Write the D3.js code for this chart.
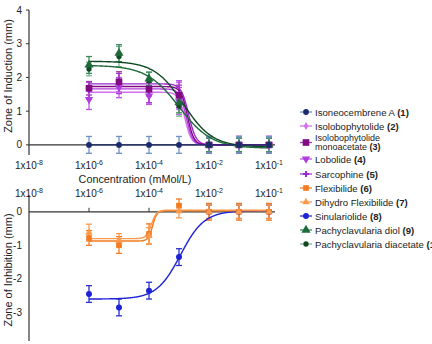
<!DOCTYPE html>
<html>
<head>
<meta charset="utf-8">
<script src="https://cdn.jsdelivr.net/npm/d3@7"></script>
<style>
  body { margin: 0; background: #fff; }
  svg { font-family: "Liberation Sans", Arial, sans-serif; }
</style>
</head>
<body>
<svg id="chart" width="432" height="344"></svg>
<script>
// concentrations (mMol/L) tested for every compound
let conc = [1e-6, 1e-5, 1e-4, 1e-3, 1e-2, 1e-1, 1];

let xTickValues = [1e-8, 1e-6, 1e-4, 1e-2, 1];
let xTickExp = ["-8", "-6", "-4", "-2", "-1"];
let yTopTicks = [0, 1, 2, 3, 4];
let yBottomTicks = [0, -1, -2, -3];

let legendNames = ["Isoneocembrene A", "Isolobophytolide", "Isolobophytolide\nmonoacetate",
  "Lobolide", "Sarcophine", "Flexibilide", "Dihydro Flexibilide", "Sinulariolide",
  "Pachyclavularia diol", "Pachyclavularia diacetate"];
let legendNums = ["(1)", "(2)", "(3)", "(4)", "(5)", "(6)", "(7)", "(8)", "(9)", "(10)"];

// zone of induction (top panel)
let isoneocembrene = [0, 0, 0, 0, 0, 0, 0];
let isoneocembreneErr = [0.25, 0.25, 0.25, 0.25, 0.25, 0.25, 0.25];
let isolobophytolide = [1.6, 1.75, 1.55, 1.45, 0, 0, 0];
let isolobophytolideErr = [0.25, 0.2, 0.3, 0.4, 0.25, 0.25, 0.25];
let monoacetate = [1.68, 1.87, 1.65, 1.47, 0, 0, 0];
let monoacetateErr = [0.2, 0.3, 0.2, 0.3, 0.2, 0.2, 0.2];
let lobolide = [1.35, 1.7, 1.45, 1.3, 0, 0, 0];
let lobolideErr = [0.3, 0.3, 0.25, 0.4, 0.2, 0.25, 0.25];
let sarcophine = [1.62, 1.82, 1.6, 1.5, 0, 0, 0];
let sarcophineErr = [0.25, 0.3, 0.35, 0.4, 0.25, 0.25, 0.25];
let diol = [2.37, 2.72, 1.96, 1.25, 0, 0, 0];
let diolErr = [0.25, 0.25, 0.2, 0.3, 0.2, 0.2, 0.2];
let diacetate = [2.25, 2.62, 1.9, 1.15, 0, 0, 0];
let diacetateErr = [0.2, 0.3, 0.25, 0.3, 0.2, 0.2, 0.2];

// zone of inhibition (bottom panel)
let flexibilide = [-0.78, -0.99, -0.66, 0.18, 0, 0, 0];
let flexibilideErr = [0.22, 0.25, 0.3, 0.2, 0.25, 0.25, 0.25];
let dihydro = [-0.62, -0.85, -0.72, 0.02, 0, 0, 0];
let dihydroErr = [0.25, 0.2, 0.25, 0.2, 0.2, 0.2, 0.2];
let sinulariolide = [-2.45, -2.85, -2.35, -1.35, 0, 0, 0];
let sinulariolideErr = [0.25, 0.25, 0.25, 0.25, 0.2, 0.2, 0.2];

// fitted dose-response curves: [bottom, top, logEC50, hill]
let fitIsoneocembrene = [0, 0, -3, 1];
let fitIsolobophytolide = [1.56, 0, -2.8, 4];
let fitMonoacetate = [1.73, 0, -2.72, 4];
let fitLobolide = [1.66, 0, -2.76, 4];
let fitSarcophine = [1.81, 0, -2.68, 3.5];
let fitDiol = [2.36, -0.1, -3.0, 0.8];
let fitDiacetate = [2.48, -0.06, -2.85, 0.9];
let fitFlexibilide = [-0.87, 0.03, -3.88, 6];
let fitDihydro = [-0.8, 0.05, -3.92, 5];
let fitSinulariolide = [-2.6, 0.03, -2.95, 1.1];

let svg = d3.select("#chart");

let x = d3.scaleLog().domain([1e-8, Math.pow(10, 0.2)]).range([29, 275]);
let yTop = d3.scaleLinear().domain([-0.3, 4]).range([155, 10]);
let yBottom = d3.scaleLinear().domain([-3.85, 0.5]).range([341, 195]);

let series = [
  { id: 0, panel: "top", vals: isoneocembrene, err: isoneocembreneErr, fit: fitIsoneocembrene,
    color: "#1b2a6b", errColor: "#6f93c4", sym: d3.symbolCircle, size: 26 },
  { id: 1, panel: "top", vals: isolobophytolide, err: isolobophytolideErr, fit: fitIsolobophytolide,
    color: "#d36ef0", errColor: "#d36ef0", sym: d3.symbolDiamond, size: 18 },
  { id: 2, panel: "top", vals: monoacetate, err: monoacetateErr, fit: fitMonoacetate,
    color: "#800a80", errColor: "#a23ab0", sym: d3.symbolSquare, size: 44 },
  { id: 3, panel: "top", vals: lobolide, err: lobolideErr, fit: fitLobolide,
    color: "#b13de0", errColor: "#c055e8", sym: "down", size: 30 },
  { id: 4, panel: "top", vals: sarcophine, err: sarcophineErr, fit: fitSarcophine,
    color: "#9b2ad0", errColor: "#a73adb", sym: d3.symbolCross, size: 20 },
  { id: 5, panel: "bottom", vals: flexibilide, err: flexibilideErr, fit: fitFlexibilide,
    color: "#f47a20", errColor: "#f47a20", sym: d3.symbolSquare, size: 32 },
  { id: 6, panel: "bottom", vals: dihydro, err: dihydroErr, fit: fitDihydro,
    color: "#fb9a4c", errColor: "#fb9a4c", sym: d3.symbolTriangle, size: 24 },
  { id: 7, panel: "bottom", vals: sinulariolide, err: sinulariolideErr, fit: fitSinulariolide,
    color: "#1d22d6", errColor: "#2a30c8", sym: d3.symbolCircle, size: 28 },
  { id: 8, panel: "top", vals: diol, err: diolErr, fit: fitDiol,
    color: "#1f6a3a", errColor: "#3c8a5a", sym: d3.symbolTriangle, size: 36 },
  { id: 9, panel: "top", vals: diacetate, err: diacetateErr, fit: fitDiacetate,
    color: "#0f4a24", errColor: "#7fb597", sym: d3.symbolCircle, size: 22 }
];

// order in which the compounds are stacked in each panel
let drawOrder = [7, 5, 6, 1, 3, 4, 2, 9, 8, 0];

function symbolPath(s) {
  if (s.sym === "down") return d3.symbol().type(d3.symbolTriangle).size(s.size)();
  return d3.symbol().type(s.sym).size(s.size)();
}
function symbolRotate(s) { return s.sym === "down" ? " rotate(180)" : ""; }

function hill(p, c) {
  let [a, b, logEC, h] = p;
  return b + (a - b) / (1 + Math.pow(10, (Math.log10(c) - logEC) * h));
}

function supLabel(sel, exps) {
  sel.each(function(d, i) {
    let t = d3.select(this);
    t.append("tspan").text("1x10");
    t.append("tspan").attr("dy", -4).attr("font-size", 7).text(exps[i]);
  });
}

// ---------- axes ----------
let axisColor = "#333";

// top panel
svg.append("line").attr("x1", 29).attr("x2", 29).attr("y1", yTop(4)).attr("y2", yTop(-0.3))
  .attr("stroke", axisColor).attr("stroke-width", 1.2);
svg.append("line").attr("x1", 29).attr("x2", 275).attr("y1", yTop(0)).attr("y2", yTop(0))
  .attr("stroke", axisColor).attr("stroke-width", 1.2);
svg.selectAll(".ytt").data(yTopTicks).enter().append("line")
  .attr("x1", 26).attr("x2", 29).attr("y1", d => yTop(d)).attr("y2", d => yTop(d))
  .attr("stroke", axisColor);
svg.selectAll(".ytl").data(yTopTicks).enter().append("text")
  .attr("x", 22).attr("y", d => yTop(d) + 3.5).attr("text-anchor", "end")
  .attr("font-size", 10).attr("fill", "#222").text(d => d);
svg.append("g").selectAll("text").data(xTickValues).enter().append("text")
  .attr("x", d => x(d)).attr("y", 169).attr("text-anchor", "middle")
  .attr("font-size", 10).attr("fill", "#222")
  .call(supLabel, xTickExp);
svg.append("text").attr("x", 135).attr("y", 183).attr("text-anchor", "middle")
  .attr("font-size", 10.8).attr("fill", "#222").text("Concentration (mMol/L)");
svg.append("text").attr("transform", "translate(12," + 76 + ") rotate(-90)")
  .attr("text-anchor", "middle").attr("font-size", 11).attr("fill", "#222")
  .text("Zone of Induction (mm)");

// bottom panel
svg.append("line").attr("x1", 29).attr("x2", 29).attr("y1", yBottom(0.5)).attr("y2", yBottom(-3.85))
  .attr("stroke", axisColor).attr("stroke-width", 1.2);
svg.append("line").attr("x1", 29).attr("x2", 275).attr("y1", yBottom(0)).attr("y2", yBottom(0))
  .attr("stroke", axisColor).attr("stroke-width", 1.2);
svg.selectAll(".xbt").data(xTickValues.slice(1, 3)).enter().append("line")
  .attr("x1", d => x(d)).attr("x2", d => x(d)).attr("y1", yBottom(0) - 4).attr("y2", yBottom(0))
  .attr("stroke", axisColor);
svg.selectAll(".ybl").data(yBottomTicks).enter().append("text")
  .attr("x", 22).attr("y", d => yBottom(d) + 3.5).attr("text-anchor", "end")
  .attr("font-size", 10).attr("fill", "#222").text(d => d);
svg.append("g").selectAll("text").data(xTickValues).enter().append("text")
  .attr("x", d => x(d)).attr("y", 197).attr("text-anchor", "middle")
  .attr("font-size", 10).attr("fill", "#222")
  .call(supLabel, xTickExp);
svg.append("text").attr("transform", "translate(12," + 270 + ") rotate(-90)")
  .attr("text-anchor", "middle").attr("font-size", 11).attr("fill", "#222")
  .text("Zone of Inhibition (mm)");

// ---------- data ----------
let curveX = d3.range(-6, 0.001, 0.02).map(e => Math.pow(10, e));

function yOf(s) { return s.panel === "top" ? yTop : yBottom; }

let ordered = drawOrder.map(i => series[i]);

// error bars
ordered.forEach(function(s) {
  let y = yOf(s);
  let g = svg.append("g").attr("stroke", s.errColor).attr("stroke-width", 1.3);
  conc.forEach(function(c, i) {
    let cx = x(c), lo = y(s.vals[i] - s.err[i]), hi = y(s.vals[i] + s.err[i]);
    g.append("line").attr("x1", cx).attr("x2", cx).attr("y1", lo).attr("y2", hi);
    g.append("line").attr("x1", cx - 3).attr("x2", cx + 3).attr("y1", lo).attr("y2", lo);
    g.append("line").attr("x1", cx - 3).attr("x2", cx + 3).attr("y1", hi).attr("y2", hi);
  });
});

// fitted curves
ordered.forEach(function(s) {
  let y = yOf(s);
  let line = d3.line().x(c => x(c)).y(c => y(hill(s.fit, c))).curve(d3.curveMonotoneX);
  svg.append("path").datum(curveX).attr("d", line)
    .attr("fill", "none").attr("stroke", s.color).attr("stroke-width", 1.4);
});

// markers
ordered.forEach(function(s) {
  let y = yOf(s);
  svg.append("g").selectAll("path").data(conc).enter().append("path")
    .attr("transform", (c, i) => "translate(" + x(c) + "," + y(s.vals[i]) + ")" + symbolRotate(s))
    .attr("d", symbolPath(s))
    .attr("fill", s.color);
});

// ---------- legend ----------
let legendY = [112, 126, 142.5, 159, 174, 188, 202, 216, 230, 244];
let lg = svg.append("g").attr("font-size", 9.6).attr("fill", "#222");
series.forEach(function(s, i) {
  let ly = legendY[i];
  lg.append("line").attr("x1", 300).attr("x2", 312).attr("y1", ly).attr("y2", ly)
    .attr("stroke", s.errColor).attr("stroke-width", 1.3);
  lg.append("path").attr("d", symbolPath(s))
    .attr("transform", "translate(306," + ly + ")" + symbolRotate(s))
    .attr("fill", s.color);
  let lines = legendNames[i].split("\n");
  if (lines.length === 1) {
    let t = lg.append("text").attr("x", 315).attr("y", ly + 3.5);
    t.append("tspan").text(lines[0] + " ");
    t.append("tspan").attr("font-weight", "bold").text(legendNums[i]);
  } else {
    lg.append("text").attr("x", 315).attr("y", ly - 1.8).attr("font-size", 9).text(lines[0]);
    let t = lg.append("text").attr("x", 315).attr("y", ly + 7.2).attr("font-size", 9);
    t.append("tspan").text(lines[1] + " ");
    t.append("tspan").attr("font-weight", "bold").text(legendNums[i]);
  }
});
</script>
</body>
</html>
